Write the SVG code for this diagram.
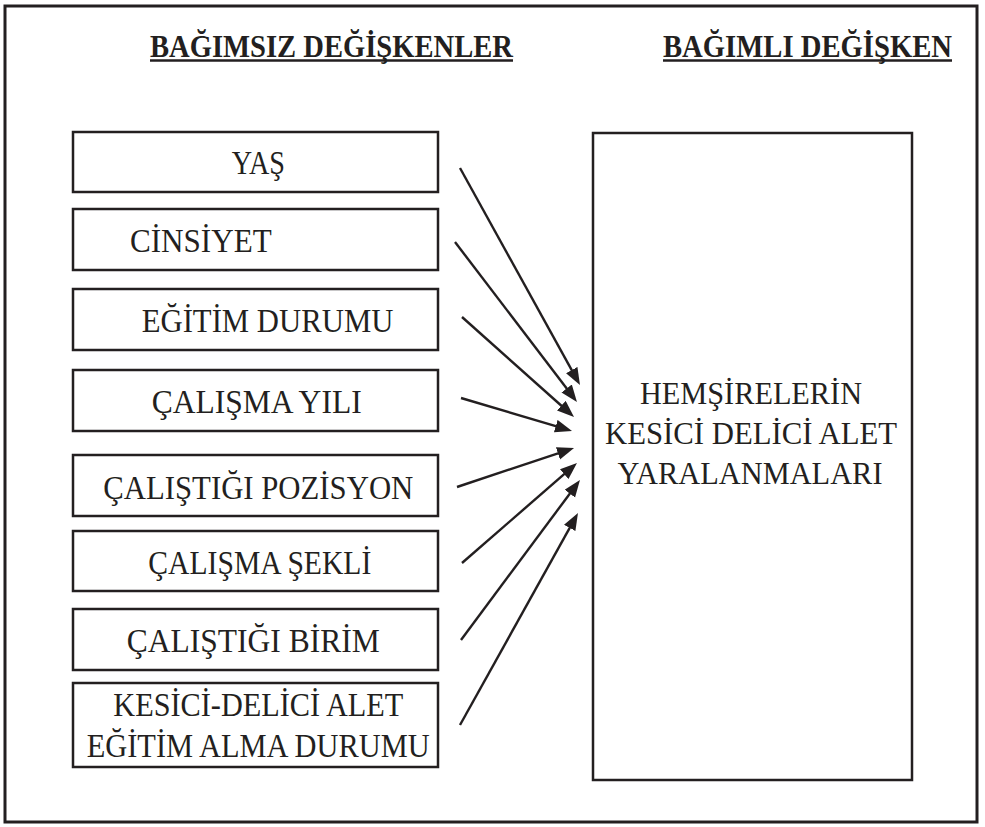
<svg xmlns="http://www.w3.org/2000/svg" width="985" height="827" viewBox="0 0 985 827">
<defs>
<style>
.frame{fill:none;stroke:#231f20;stroke-width:3}
.box{fill:#fff;stroke:#231f20;stroke-width:2.5}
.t{font-family:"Liberation Serif","Times New Roman",serif;font-size:34px;fill:#231f20}
.tr{font-family:"Liberation Serif","Times New Roman",serif;font-size:32px;fill:#231f20;text-anchor:middle}
.h{font-family:"Liberation Serif","Times New Roman",serif;font-size:32px;font-weight:bold;fill:#231f20}
.ul{stroke:#231f20;stroke-width:2.5}
.arr{stroke:#231f20;stroke-width:2.4;fill:none;marker-end:url(#ah)}
</style>
<marker id="ah" markerUnits="userSpaceOnUse" markerWidth="18" markerHeight="14" refX="8" refY="6.5" orient="auto">
<path d="M0,0 L17,6.5 L0,13 z" fill="#231f20"/>
</marker>
</defs>
<rect width="985" height="827" fill="#fff"/>
<rect class="frame" x="5" y="6" width="972" height="816"/>

<g id="titles">
<text class="h" x="150" y="57" textLength="363" lengthAdjust="spacingAndGlyphs">BAĞIMSIZ DEĞİŞKENLER</text>
<line class="ul" x1="150" y1="60.5" x2="513" y2="60.5"/>
<text class="h" x="663" y="57" textLength="289" lengthAdjust="spacingAndGlyphs">BAĞIMLI DEĞİŞKEN</text>
<line class="ul" x1="663" y1="60.5" x2="952" y2="60.5"/>
</g>

<g id="n1"><rect class="box" x="73" y="132" width="365" height="60"/><text class="t" x="231.7" y="174" textLength="53.3" lengthAdjust="spacingAndGlyphs">YAŞ</text></g>
<g id="n2"><rect class="box" x="73" y="209" width="365" height="61"/><text class="t" x="130" y="252" textLength="141.7" lengthAdjust="spacingAndGlyphs">CİNSİYET</text></g>
<g id="n3"><rect class="box" x="73" y="289" width="365" height="61"/><text class="t" x="141.7" y="332" textLength="251.7" lengthAdjust="spacingAndGlyphs">EĞİTİM DURUMU</text></g>
<g id="n4"><rect class="box" x="73" y="370" width="365" height="61"/><text class="t" x="151.7" y="413" textLength="210" lengthAdjust="spacingAndGlyphs">ÇALIŞMA YILI</text></g>
<g id="n5"><rect class="box" x="73" y="455" width="365" height="61"/><text class="t" x="103.3" y="499" textLength="310" lengthAdjust="spacingAndGlyphs">ÇALIŞTIĞI POZİSYON</text></g>
<g id="n6"><rect class="box" x="73" y="531" width="365" height="60"/><text class="t" x="148.3" y="574" textLength="223" lengthAdjust="spacingAndGlyphs">ÇALIŞMA ŞEKLİ</text></g>
<g id="n7"><rect class="box" x="73" y="609" width="365" height="61"/><text class="t" x="126.7" y="652" textLength="253" lengthAdjust="spacingAndGlyphs">ÇALIŞTIĞI BİRİM</text></g>
<g id="n8"><rect class="box" x="73" y="683" width="365" height="84"/><text class="t" x="113.3" y="716" textLength="290" lengthAdjust="spacingAndGlyphs">KESİCİ-DELİCİ ALET</text><text class="t" x="86.7" y="757" textLength="343" lengthAdjust="spacingAndGlyphs">EĞİTİM ALMA DURUMU</text></g>

<g id="target"><rect class="box" x="593" y="133" width="319" height="647"/>
<text class="tr" x="751" y="404" textLength="222" lengthAdjust="spacingAndGlyphs">HEMŞİRELERİN</text>
<text class="tr" x="751" y="444" textLength="292" lengthAdjust="spacingAndGlyphs">KESİCİ DELİCİ ALET</text>
<text class="tr" x="750" y="484" textLength="265" lengthAdjust="spacingAndGlyphs">YARALANMALARI</text>
</g>

<g id="connectors">
<line class="arr" x1="460" y1="168" x2="575.6" y2="377.1"/>
<line class="arr" x1="455" y1="242" x2="571.5" y2="394.8"/>
<line class="arr" x1="462" y1="317" x2="567.3" y2="411.0"/>
<line class="arr" x1="461" y1="398" x2="563.4" y2="428.4"/>
<line class="arr" x1="457" y1="487" x2="565.5" y2="450.8"/>
<line class="arr" x1="462" y1="563" x2="570.2" y2="468.9"/>
<line class="arr" x1="461" y1="640" x2="574.6" y2="487.2"/>
<line class="arr" x1="460" y1="725" x2="573.6" y2="520.9"/>
</g>
</svg>
